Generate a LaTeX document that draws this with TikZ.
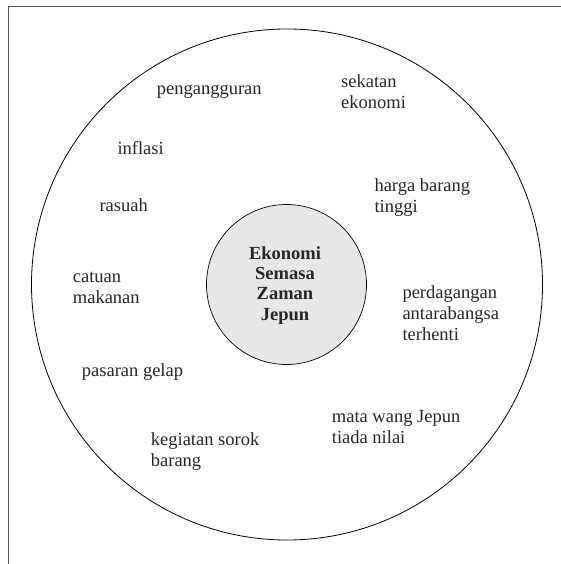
\documentclass[tikz,border=0pt]{standalone}
\usepackage{fontspec}
\setmainfont{Liberation Serif}
\definecolor{framegray}{HTML}{555555}
\definecolor{hubfill}{HTML}{E6E7E8}
\begin{document}
\begin{tikzpicture}[x=1pt,y=1pt,
  lbl/.style={anchor=base west,inner sep=0pt,align=left,font=\fontsize{18.5}{21}\selectfont,text=black!85},
  hubtext/.style={anchor=base,inner sep=0pt,align=center,font=\fontsize{18.5}{20.3}\selectfont\bfseries,text=black!85}]
\useasboundingbox (0,0) rectangle (561,-564);
\draw[framegray,line width=1pt] (8.5,-564) -- (8.5,-7) -- (561,-7);
\node[circle,draw,line width=0.8pt,minimum size=511pt,inner sep=0pt] (outer) at (287,-284.5) {};
\node[circle,draw,line width=0.7pt,fill=hubfill,minimum size=160pt,inner sep=0pt] (hub) at (286.5,-284.5) {};
\node[hubtext] (hubt) at (285,-320) {Ekonomi\\Semasa\\Zaman\\Jepun};
\node[lbl] (l1) at (156.7,-95) {pengangguran};
\node[lbl] (l2) at (117.3,-154.3) {inflasi};
\node[lbl] (l3) at (99.3,-211.7) {rasuah};
\node[lbl] (l4) at (341,-108.3) {sekatan\\ekonomi};
\node[lbl] (l5) at (374.3,-212.7) {harga barang\\tinggi};
\node[lbl] (l6) at (72.7,-303.3) {catuan\\makanan};
\node[lbl] (l7) at (81.7,-376.7) {pasaran gelap};
\node[lbl] (l8) at (150.7,-466) {kegiatan sorok\\barang};
\node[lbl] (l9) at (402.3,-340) {perdagangan\\antarabangsa\\terhenti};
\node[lbl] (l10) at (331.7,-443.3) {mata wang Jepun\\tiada nilai};
\end{tikzpicture}
\end{document}
